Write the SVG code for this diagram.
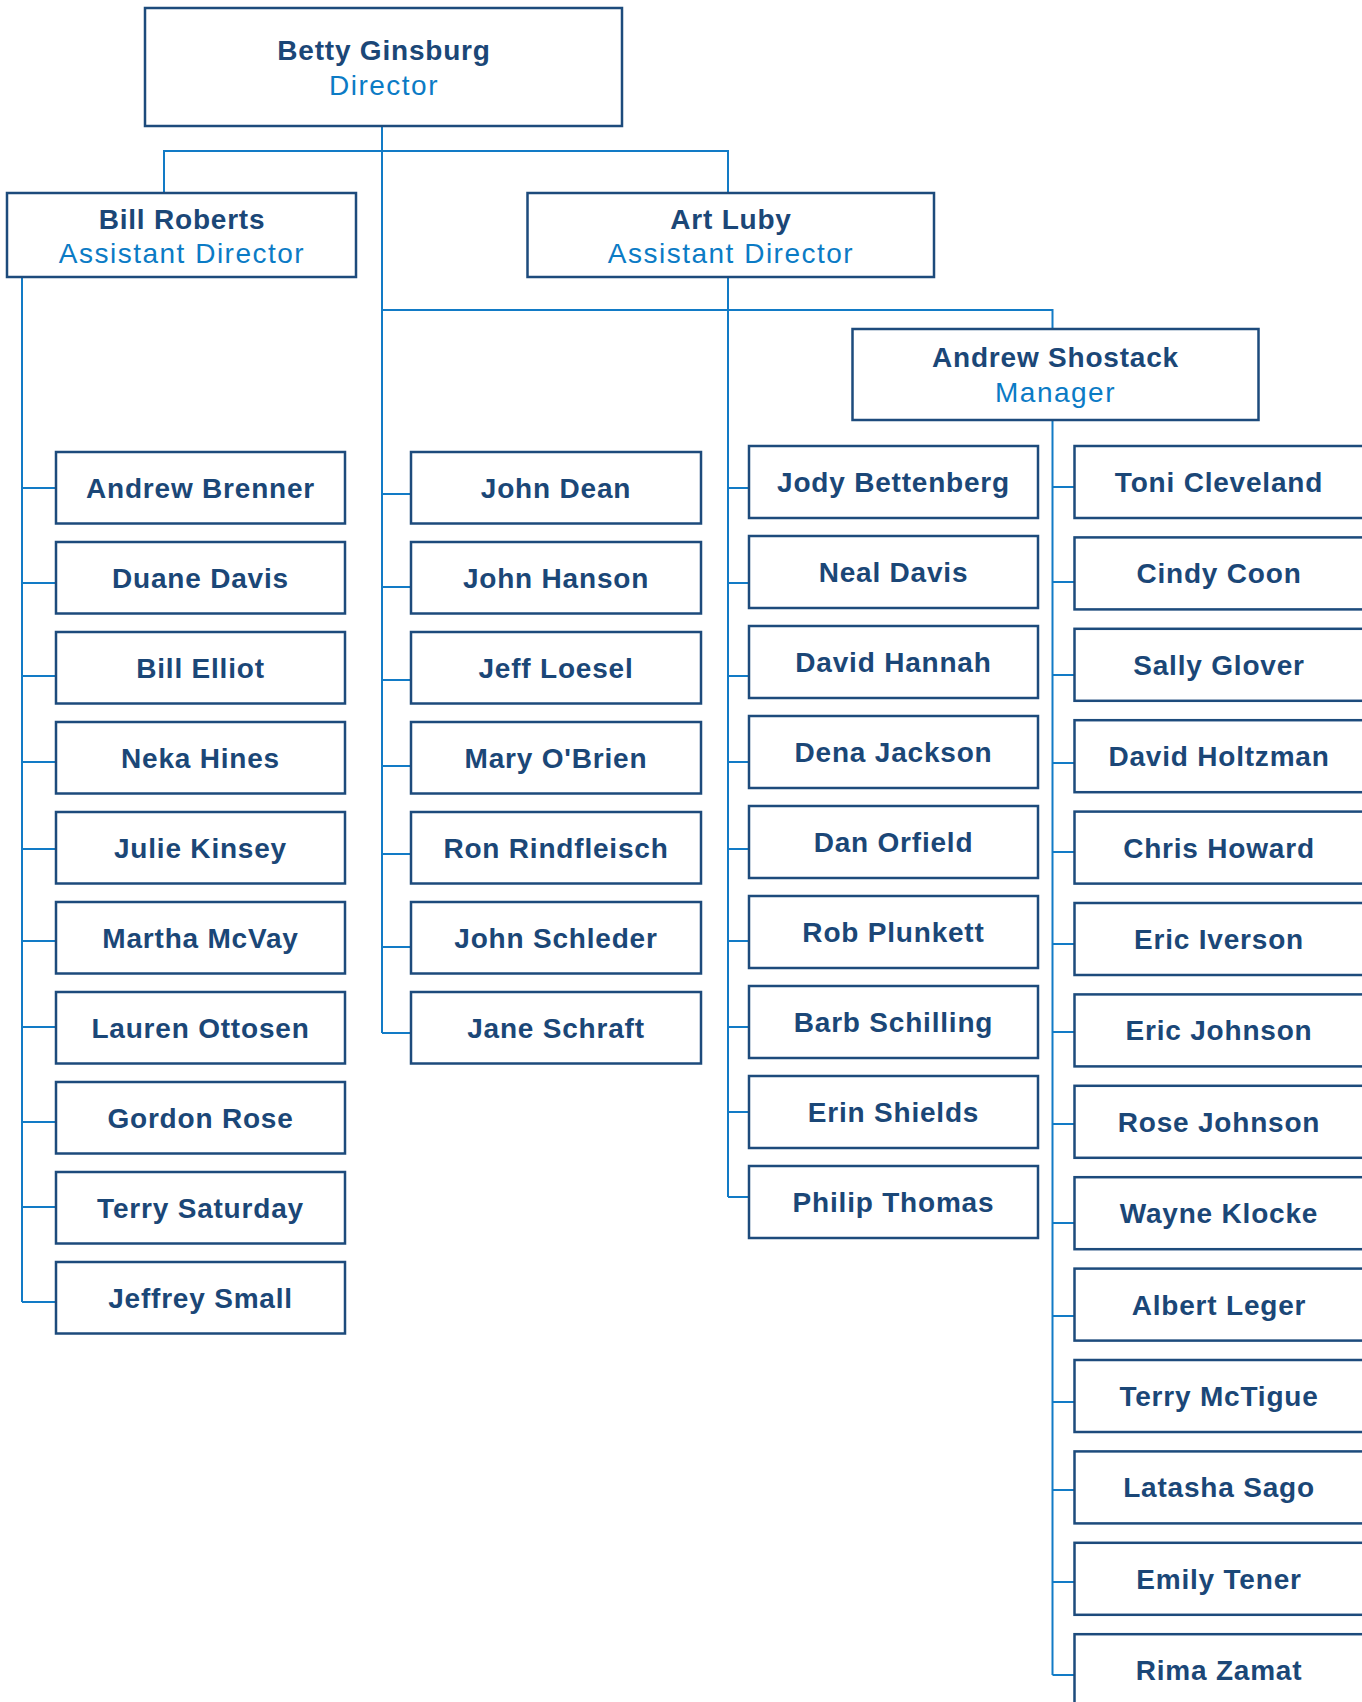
<svg xmlns="http://www.w3.org/2000/svg" width="1362" height="1702" viewBox="0 0 1362 1702">
<style>
.box{fill:#fff;stroke:#1d4b7c;stroke-width:2.5}
.nm{font-family:"Liberation Sans",Arial,sans-serif;font-weight:bold;font-size:28px;fill:#1b4777;text-anchor:middle;letter-spacing:0.8px}
.tt{font-family:"Liberation Sans",Arial,sans-serif;font-size:28px;fill:#0b7bc5;text-anchor:middle;letter-spacing:1.5px}
.cn{fill:none;stroke:#127bc6;stroke-width:2}
</style>
<g id="connectors" class="cn">
<path d="M382,126 V1033 M164,193 V151 H728 V193 M382,310 H1052.5 V329"/>
<path d="M22,277 V1302 M22,488 H56 M22,583 H56 M22,676 H56 M22,762 H56 M22,849 H56 M22,941 H56 M22,1027 H56 M22,1122 H56 M22,1207 H56 M22,1302 H56"/>
<path d="M382,494 H411 M382,587 H411 M382,680 H411 M382,766 H411 M382,854 H411 M382,947 H411 M382,1033 H411"/>
<path d="M728,277 V1197 M728,488 H749 M728,583 H749 M728,676 H749 M728,762 H749 M728,849 H749 M728,941 H749 M728,1027 H749 M728,1112 H749 M728,1197 H749"/>
<path d="M1052.5,420 V1675 M1052.5,487 H1074.5 M1052.5,582 H1074.5 M1052.5,675 H1074.5 M1052.5,763 H1074.5 M1052.5,852 H1074.5 M1052.5,944 H1074.5 M1052.5,1032 H1074.5 M1052.5,1124 H1074.5 M1052.5,1223 H1074.5 M1052.5,1316 H1074.5 M1052.5,1402 H1074.5 M1052.5,1490 H1074.5 M1052.5,1582 H1074.5 M1052.5,1675 H1074.5"/>
</g>
<g id="betty-ginsburg"><rect class="box" x="145" y="8" width="477" height="118"/><text class="nm" x="384" y="60">Betty Ginsburg</text><text class="tt" x="384" y="95">Director</text></g>
<g id="bill-roberts"><rect class="box" x="7" y="193" width="349" height="84"/><text class="nm" x="182" y="229">Bill Roberts</text><text class="tt" x="182" y="263">Assistant Director</text></g>
<g id="art-luby"><rect class="box" x="527.5" y="193" width="406.5" height="84"/><text class="nm" x="731" y="229">Art Luby</text><text class="tt" x="731" y="263">Assistant Director</text></g>
<g id="andrew-shostack"><rect class="box" x="852.5" y="329" width="406" height="91"/><text class="nm" x="1055.5" y="367">Andrew Shostack</text><text class="tt" x="1055.5" y="402">Manager</text></g>

<g id="andrew-brenner"><rect class="box" x="56" y="452" width="289" height="71.5"/><text class="nm" x="200.5" y="498">Andrew Brenner</text></g>
<g id="duane-davis"><rect class="box" x="56" y="542" width="289" height="71.5"/><text class="nm" x="200.5" y="588">Duane Davis</text></g>
<g id="bill-elliot"><rect class="box" x="56" y="632" width="289" height="71.5"/><text class="nm" x="200.5" y="678">Bill Elliot</text></g>
<g id="neka-hines"><rect class="box" x="56" y="722" width="289" height="71.5"/><text class="nm" x="200.5" y="768">Neka Hines</text></g>
<g id="julie-kinsey"><rect class="box" x="56" y="812" width="289" height="71.5"/><text class="nm" x="200.5" y="858">Julie Kinsey</text></g>
<g id="martha-mcvay"><rect class="box" x="56" y="902" width="289" height="71.5"/><text class="nm" x="200.5" y="948">Martha McVay</text></g>
<g id="lauren-ottosen"><rect class="box" x="56" y="992" width="289" height="71.5"/><text class="nm" x="200.5" y="1038">Lauren Ottosen</text></g>
<g id="gordon-rose"><rect class="box" x="56" y="1082" width="289" height="71.5"/><text class="nm" x="200.5" y="1128">Gordon Rose</text></g>
<g id="terry-saturday"><rect class="box" x="56" y="1172" width="289" height="71.5"/><text class="nm" x="200.5" y="1218">Terry Saturday</text></g>
<g id="jeffrey-small"><rect class="box" x="56" y="1262" width="289" height="71.5"/><text class="nm" x="200.5" y="1308">Jeffrey Small</text></g>

<g id="john-dean"><rect class="box" x="411" y="452" width="290" height="71.5"/><text class="nm" x="556" y="498">John Dean</text></g>
<g id="john-hanson"><rect class="box" x="411" y="542" width="290" height="71.5"/><text class="nm" x="556" y="588">John Hanson</text></g>
<g id="jeff-loesel"><rect class="box" x="411" y="632" width="290" height="71.5"/><text class="nm" x="556" y="678">Jeff Loesel</text></g>
<g id="mary-obrien"><rect class="box" x="411" y="722" width="290" height="71.5"/><text class="nm" x="556" y="768">Mary O'Brien</text></g>
<g id="ron-rindfleisch"><rect class="box" x="411" y="812" width="290" height="71.5"/><text class="nm" x="556" y="858">Ron Rindfleisch</text></g>
<g id="john-schleder"><rect class="box" x="411" y="902" width="290" height="71.5"/><text class="nm" x="556" y="948">John Schleder</text></g>
<g id="jane-schraft"><rect class="box" x="411" y="992" width="290" height="71.5"/><text class="nm" x="556" y="1038">Jane Schraft</text></g>

<g id="jody-bettenberg"><rect class="box" x="749" y="446" width="289" height="72"/><text class="nm" x="893.5" y="492">Jody Bettenberg</text></g>
<g id="neal-davis"><rect class="box" x="749" y="536" width="289" height="72"/><text class="nm" x="893.5" y="582">Neal Davis</text></g>
<g id="david-hannah"><rect class="box" x="749" y="626" width="289" height="72"/><text class="nm" x="893.5" y="672">David Hannah</text></g>
<g id="dena-jackson"><rect class="box" x="749" y="716" width="289" height="72"/><text class="nm" x="893.5" y="762">Dena Jackson</text></g>
<g id="dan-orfield"><rect class="box" x="749" y="806" width="289" height="72"/><text class="nm" x="893.5" y="852">Dan Orfield</text></g>
<g id="rob-plunkett"><rect class="box" x="749" y="896" width="289" height="72"/><text class="nm" x="893.5" y="942">Rob Plunkett</text></g>
<g id="barb-schilling"><rect class="box" x="749" y="986" width="289" height="72"/><text class="nm" x="893.5" y="1032">Barb Schilling</text></g>
<g id="erin-shields"><rect class="box" x="749" y="1076" width="289" height="72"/><text class="nm" x="893.5" y="1122">Erin Shields</text></g>
<g id="philip-thomas"><rect class="box" x="749" y="1166" width="289" height="72"/><text class="nm" x="893.5" y="1212">Philip Thomas</text></g>

<g id="toni-cleveland"><rect class="box" x="1074.5" y="446" width="289" height="72"/><text class="nm" x="1219" y="492">Toni Cleveland</text></g>
<g id="cindy-coon"><rect class="box" x="1074.5" y="537.4" width="289" height="72"/><text class="nm" x="1219" y="583.4">Cindy Coon</text></g>
<g id="sally-glover"><rect class="box" x="1074.5" y="628.8" width="289" height="72"/><text class="nm" x="1219" y="674.8">Sally Glover</text></g>
<g id="david-holtzman"><rect class="box" x="1074.5" y="720.2" width="289" height="72"/><text class="nm" x="1219" y="766.2">David Holtzman</text></g>
<g id="chris-howard"><rect class="box" x="1074.5" y="811.6" width="289" height="72"/><text class="nm" x="1219" y="857.6">Chris Howard</text></g>
<g id="eric-iverson"><rect class="box" x="1074.5" y="903" width="289" height="72"/><text class="nm" x="1219" y="949">Eric Iverson</text></g>
<g id="eric-johnson"><rect class="box" x="1074.5" y="994.4" width="289" height="72"/><text class="nm" x="1219" y="1040.4">Eric Johnson</text></g>
<g id="rose-johnson"><rect class="box" x="1074.5" y="1085.8" width="289" height="72"/><text class="nm" x="1219" y="1131.8">Rose Johnson</text></g>
<g id="wayne-klocke"><rect class="box" x="1074.5" y="1177.2" width="289" height="72"/><text class="nm" x="1219" y="1223.2">Wayne Klocke</text></g>
<g id="albert-leger"><rect class="box" x="1074.5" y="1268.6" width="289" height="72"/><text class="nm" x="1219" y="1314.6">Albert Leger</text></g>
<g id="terry-mctigue"><rect class="box" x="1074.5" y="1360" width="289" height="72"/><text class="nm" x="1219" y="1406">Terry McTigue</text></g>
<g id="latasha-sago"><rect class="box" x="1074.5" y="1451.4" width="289" height="72"/><text class="nm" x="1219" y="1497.4">Latasha Sago</text></g>
<g id="emily-tener"><rect class="box" x="1074.5" y="1542.8" width="289" height="72"/><text class="nm" x="1219" y="1588.8">Emily Tener</text></g>
<g id="rima-zamat"><rect class="box" x="1074.5" y="1634.2" width="289" height="72"/><text class="nm" x="1219" y="1680.2">Rima Zamat</text></g>
</svg>
